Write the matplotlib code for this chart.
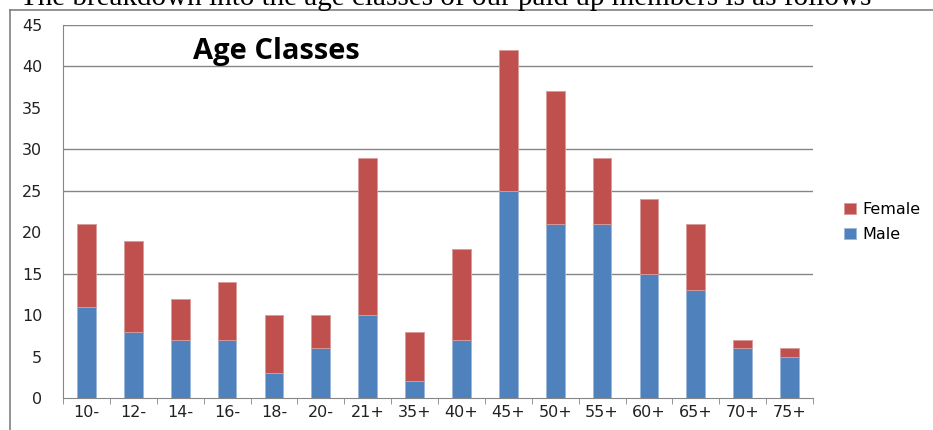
import matplotlib.pyplot as plt
from matplotlib.lines import Line2D
import numpy as np

age_classes = ['10-', '12-', '14-', '16-', '18-', '20-', '21+', '35+',
               '40+', '45+', '50+', '55+', '60+', '65+', '70+', '75+']
male = [11, 8, 7, 7, 3, 6, 10, 2, 7, 25, 21, 21, 15, 13, 6, 5]
female = [10, 11, 5, 7, 7, 4, 19, 6, 11, 17, 16, 8, 9, 8, 1, 1]

blue = '#4F81BD'
red = '#C0504D'
grey = '#868686'

W, H = 933, 430
fig = plt.figure(figsize=(W / 100, H / 100), dpi=100)

# plot area in pixels: x 63..813, y 25..398
ax = fig.add_axes([63 / W, 1 - 398 / H, (813 - 63) / W, (398 - 25) / H])

x = np.arange(len(age_classes))
ax.bar(x, male, width=0.4, color=blue, edgecolor='#9BB7DA', linewidth=0.6, label='Male', zorder=3)
ax.bar(x, female, width=0.4, bottom=male, color=red, edgecolor='#DA9B99', linewidth=0.6,
       label='Female', zorder=3)

ax.set_xlim(-0.5, len(age_classes) - 0.5)
ax.set_ylim(0, 45)
ax.set_yticks(range(0, 46, 5))
# only these grid lines survive in the (downscaled) reference
grid_vals = [0, 15, 25, 30, 40, 45]
ax.set_yticks(grid_vals, minor=True)
for v in grid_vals[1:]:
    ax.axhline(v, color=grey, linewidth=1.0, zorder=1)

ax.set_xticks(x)
ax.set_xticklabels(age_classes)
ax.set_xticks(np.arange(-0.5, len(age_classes), 1), minor=True)
ax.tick_params(axis='x', which='major', length=0, pad=5, labelsize=11.5, labelcolor='#222222')
ax.tick_params(axis='x', which='minor', length=4, color=grey, direction='out')
ax.tick_params(axis='y', which='major', length=0, pad=15, labelsize=11.5, labelcolor='#222222')
ax.tick_params(axis='y', which='minor', length=4, color=grey, direction='out')

for side in ['top', 'right']:
    ax.spines[side].set_visible(False)
ax.spines['left'].set_color(grey)
ax.spines['bottom'].set_color(grey)

fig.text(193 / W, 1 - 59 / H, 'Age Classes', fontsize=21, fontweight='bold',
         family='Open Sans', va='baseline', ha='left')

handles, labels = ax.get_legend_handles_labels()
fig.legend(handles[::-1], labels[::-1], loc='center left', bbox_to_anchor=(838 / W, 1 - 222 / H),
           frameon=False, fontsize=11.5, handlelength=0.7, handleheight=0.7,
           handletextpad=0.4, labelspacing=0.6, borderaxespad=0)

# frame around the chart and the cut off caption above it
fig.add_artist(Line2D([10 / W, 10 / W], [0, 1 - 10 / H], color='#808080', linewidth=1.2))
fig.add_artist(Line2D([10 / W, 1], [1 - 10 / H, 1 - 10 / H], color='#808080', linewidth=1.2))
fig.text(20 / W, 1 - 5 / H, 'The breakdown into the age classes of our paid up members is as follows',
         family='Liberation Serif', fontsize=21, va='baseline', ha='left')

fig.savefig('out.png', dpi=100)
